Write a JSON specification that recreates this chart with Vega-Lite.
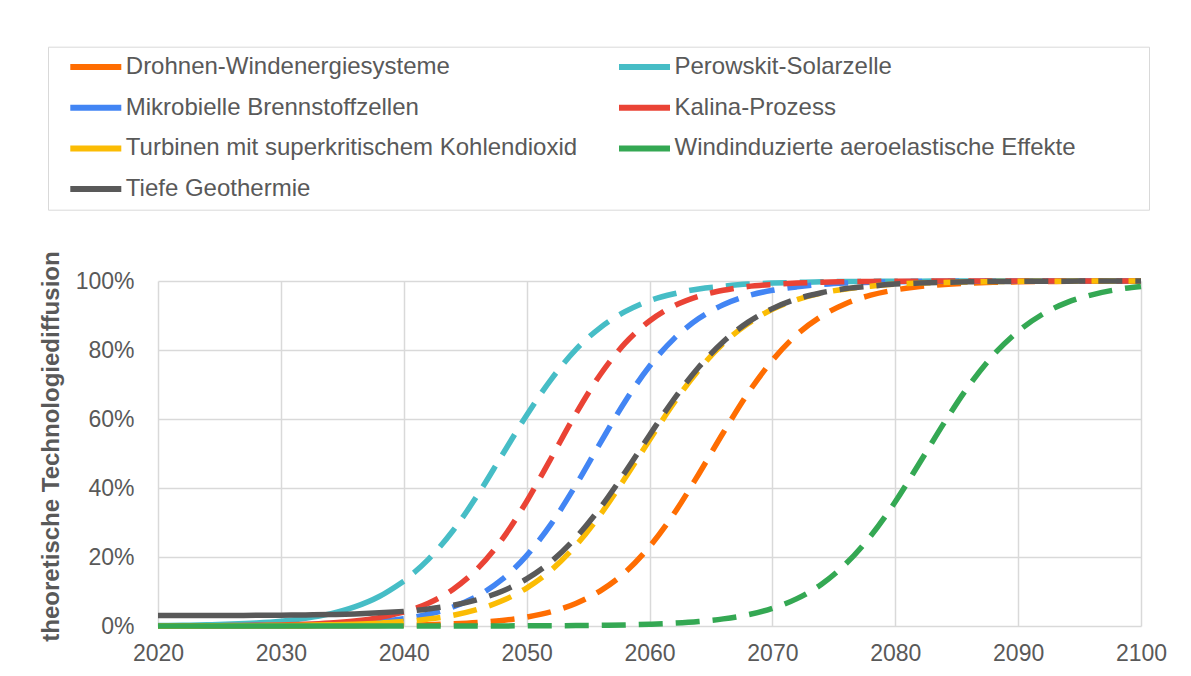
{
  "$schema": "https://vega.github.io/schema/vega-lite/v6.json",
  "width": 983,
  "height": 345,
  "autosize": {"type": "none"},
  "padding": {"left": 158, "top": 281, "right": 50, "bottom": 50},
  "background": "white",
  "config": {
    "font": "Liberation Sans",
    "view": {"stroke": null},
    "axis": {"labelFont": "Liberation Sans", "labelColor": "#595959", "gridColor": "#D9D9D9", "gridWidth": 1.5, "domain": false, "ticks": false, "labelFlush": false}
  },
  "data": {"values": [
    {"Jahr": 2020, "Drohnen-Windenergiesysteme": 0.0000, "Perowskit-Solarzelle": 0.0014, "Mikrobielle Brennstoffzellen": 0.0002, "Kalina-Prozess": 0.0002, "Turbinen mit superkritischem Kohlendioxid": 0.0001, "Windinduzierte aeroelastische Effekte": 0, "Tiefe Geothermie": 0.0301},
    {"Jahr": 2022, "Drohnen-Windenergiesysteme": 0.0000, "Perowskit-Solarzelle": 0.0022, "Mikrobielle Brennstoffzellen": 0.0003, "Kalina-Prozess": 0.0004, "Turbinen mit superkritischem Kohlendioxid": 0.0002, "Windinduzierte aeroelastische Effekte": 0, "Tiefe Geothermie": 0.0302},
    {"Jahr": 2024, "Drohnen-Windenergiesysteme": 0.0001, "Perowskit-Solarzelle": 0.0035, "Mikrobielle Brennstoffzellen": 0.0004, "Kalina-Prozess": 0.0007, "Turbinen mit superkritischem Kohlendioxid": 0.0004, "Windinduzierte aeroelastische Effekte": 0, "Tiefe Geothermie": 0.0303},
    {"Jahr": 2026, "Drohnen-Windenergiesysteme": 0.0001, "Perowskit-Solarzelle": 0.0055, "Mikrobielle Brennstoffzellen": 0.0007, "Kalina-Prozess": 0.0011, "Turbinen mit superkritischem Kohlendioxid": 0.0006, "Windinduzierte aeroelastische Effekte": 0, "Tiefe Geothermie": 0.0305},
    {"Jahr": 2028, "Drohnen-Windenergiesysteme": 0.0001, "Perowskit-Solarzelle": 0.0088, "Mikrobielle Brennstoffzellen": 0.0011, "Kalina-Prozess": 0.0019, "Turbinen mit superkritischem Kohlendioxid": 0.0009, "Windinduzierte aeroelastische Effekte": 0, "Tiefe Geothermie": 0.0309},
    {"Jahr": 2030, "Drohnen-Windenergiesysteme": 0.0002, "Perowskit-Solarzelle": 0.0140, "Mikrobielle Brennstoffzellen": 0.0018, "Kalina-Prozess": 0.0031, "Turbinen mit superkritischem Kohlendioxid": 0.0014, "Windinduzierte aeroelastische Effekte": 0, "Tiefe Geothermie": 0.0314},
    {"Jahr": 2032, "Drohnen-Windenergiesysteme": 0.0003, "Perowskit-Solarzelle": 0.0223, "Mikrobielle Brennstoffzellen": 0.0030, "Kalina-Prozess": 0.0052, "Turbinen mit superkritischem Kohlendioxid": 0.0022, "Windinduzierte aeroelastische Effekte": 0, "Tiefe Geothermie": 0.0321},
    {"Jahr": 2034, "Drohnen-Windenergiesysteme": 0.0006, "Perowskit-Solarzelle": 0.0351, "Mikrobielle Brennstoffzellen": 0.0049, "Kalina-Prozess": 0.0088, "Turbinen mit superkritischem Kohlendioxid": 0.0034, "Windinduzierte aeroelastische Effekte": 0, "Tiefe Geothermie": 0.0333},
    {"Jahr": 2036, "Drohnen-Windenergiesysteme": 0.0009, "Perowskit-Solarzelle": 0.0552, "Mikrobielle Brennstoffzellen": 0.0079, "Kalina-Prozess": 0.0146, "Turbinen mit superkritischem Kohlendioxid": 0.0053, "Windinduzierte aeroelastische Effekte": 0, "Tiefe Geothermie": 0.0351},
    {"Jahr": 2038, "Drohnen-Windenergiesysteme": 0.0015, "Perowskit-Solarzelle": 0.0855, "Mikrobielle Brennstoffzellen": 0.0130, "Kalina-Prozess": 0.0244, "Turbinen mit superkritischem Kohlendioxid": 0.0083, "Windinduzierte aeroelastische Effekte": 0, "Tiefe Geothermie": 0.0381},
    {"Jahr": 2040, "Drohnen-Windenergiesysteme": 0.0024, "Perowskit-Solarzelle": 0.130, "Mikrobielle Brennstoffzellen": 0.021, "Kalina-Prozess": 0.0403, "Turbinen mit superkritischem Kohlendioxid": 0.0128, "Windinduzierte aeroelastische Effekte": 0.0001, "Tiefe Geothermie": 0.0424},
    {"Jahr": 2042, "Drohnen-Windenergiesysteme": 0.0038, "Perowskit-Solarzelle": 0.193, "Mikrobielle Brennstoffzellen": 0.034, "Kalina-Prozess": 0.0659, "Turbinen mit superkritischem Kohlendioxid": 0.020, "Windinduzierte aeroelastische Effekte": 0.0001, "Tiefe Geothermie": 0.0494},
    {"Jahr": 2044, "Drohnen-Windenergiesysteme": 0.0062, "Perowskit-Solarzelle": 0.276, "Mikrobielle Brennstoffzellen": 0.055, "Kalina-Prozess": 0.106, "Turbinen mit superkritischem Kohlendioxid": 0.031, "Windinduzierte aeroelastische Effekte": 0.0001, "Tiefe Geothermie": 0.0601},
    {"Jahr": 2046, "Drohnen-Windenergiesysteme": 0.0100, "Perowskit-Solarzelle": 0.379, "Mikrobielle Brennstoffzellen": 0.087, "Kalina-Prozess": 0.166, "Turbinen mit superkritischem Kohlendioxid": 0.048, "Windinduzierte aeroelastische Effekte": 0.0002, "Tiefe Geothermie": 0.0766},
    {"Jahr": 2048, "Drohnen-Windenergiesysteme": 0.0161, "Perowskit-Solarzelle": 0.495, "Mikrobielle Brennstoffzellen": 0.135, "Kalina-Prozess": 0.251, "Turbinen mit superkritischem Kohlendioxid": 0.073, "Windinduzierte aeroelastische Effekte": 0.0003, "Tiefe Geothermie": 0.1008},
    {"Jahr": 2050, "Drohnen-Windenergiesysteme": 0.0258, "Perowskit-Solarzelle": 0.611, "Mikrobielle Brennstoffzellen": 0.204, "Kalina-Prozess": 0.361, "Turbinen mit superkritischem Kohlendioxid": 0.110, "Windinduzierte aeroelastische Effekte": 0.0005, "Tiefe Geothermie": 0.1367},
    {"Jahr": 2052, "Drohnen-Windenergiesysteme": 0.0412, "Perowskit-Solarzelle": 0.715, "Mikrobielle Brennstoffzellen": 0.296, "Kalina-Prozess": 0.487, "Turbinen mit superkritischem Kohlendioxid": 0.162, "Windinduzierte aeroelastische Effekte": 0.0008, "Tiefe Geothermie": 0.1871},
    {"Jahr": 2054, "Drohnen-Windenergiesysteme": 0.0653, "Perowskit-Solarzelle": 0.801, "Mikrobielle Brennstoffzellen": 0.408, "Kalina-Prozess": 0.615, "Turbinen mit superkritischem Kohlendioxid": 0.233, "Windinduzierte aeroelastische Effekte": 0.0013, "Tiefe Geothermie": 0.256},
    {"Jahr": 2056, "Drohnen-Windenergiesysteme": 0.102, "Perowskit-Solarzelle": 0.865, "Mikrobielle Brennstoffzellen": 0.531, "Kalina-Prozess": 0.729, "Turbinen mit superkritischem Kohlendioxid": 0.323, "Windinduzierte aeroelastische Effekte": 0.0020, "Tiefe Geothermie": 0.343},
    {"Jahr": 2058, "Drohnen-Windenergiesysteme": 0.155, "Perowskit-Solarzelle": 0.911, "Mikrobielle Brennstoffzellen": 0.650, "Kalina-Prozess": 0.819, "Turbinen mit superkritischem Kohlendioxid": 0.428, "Windinduzierte aeroelastische Effekte": 0.0032, "Tiefe Geothermie": 0.445},
    {"Jahr": 2060, "Drohnen-Windenergiesysteme": 0.230, "Perowskit-Solarzelle": 0.943, "Mikrobielle Brennstoffzellen": 0.753, "Kalina-Prozess": 0.884, "Turbinen mit superkritischem Kohlendioxid": 0.539, "Windinduzierte aeroelastische Effekte": 0.0052, "Tiefe Geothermie": 0.553},
    {"Jahr": 2062, "Drohnen-Windenergiesysteme": 0.326, "Perowskit-Solarzelle": 0.963, "Mikrobielle Brennstoffzellen": 0.833, "Kalina-Prozess": 0.928, "Turbinen mit superkritischem Kohlendioxid": 0.647, "Windinduzierte aeroelastische Effekte": 0.0082, "Tiefe Geothermie": 0.658},
    {"Jahr": 2064, "Drohnen-Windenergiesysteme": 0.440, "Perowskit-Solarzelle": 0.977, "Mikrobielle Brennstoffzellen": 0.891, "Kalina-Prozess": 0.956, "Turbinen mit superkritischem Kohlendioxid": 0.742, "Windinduzierte aeroelastische Effekte": 0.0130, "Tiefe Geothermie": 0.750},
    {"Jahr": 2066, "Drohnen-Windenergiesysteme": 0.560, "Perowskit-Solarzelle": 0.985, "Mikrobielle Brennstoffzellen": 0.931, "Kalina-Prozess": 0.973, "Turbinen mit superkritischem Kohlendioxid": 0.819, "Windinduzierte aeroelastische Effekte": 0.0206, "Tiefe Geothermie": 0.824},
    {"Jahr": 2068, "Drohnen-Windenergiesysteme": 0.674, "Perowskit-Solarzelle": 0.991, "Mikrobielle Brennstoffzellen": 0.957, "Kalina-Prozess": 0.984, "Turbinen mit superkritischem Kohlendioxid": 0.876, "Windinduzierte aeroelastische Effekte": 0.0326, "Tiefe Geothermie": 0.880},
    {"Jahr": 2070, "Drohnen-Windenergiesysteme": 0.770, "Perowskit-Solarzelle": 0.994, "Mikrobielle Brennstoffzellen": 0.973, "Kalina-Prozess": 0.990, "Turbinen mit superkritischem Kohlendioxid": 0.918, "Windinduzierte aeroelastische Effekte": 0.0511, "Tiefe Geothermie": 0.920},
    {"Jahr": 2072, "Drohnen-Windenergiesysteme": 0.845, "Perowskit-Solarzelle": 0.996, "Mikrobielle Brennstoffzellen": 0.983, "Kalina-Prozess": 0.994, "Turbinen mit superkritischem Kohlendioxid": 0.946, "Windinduzierte aeroelastische Effekte": 0.0794, "Tiefe Geothermie": 0.948},
    {"Jahr": 2074, "Drohnen-Windenergiesysteme": 0.898, "Perowskit-Solarzelle": 0.998, "Mikrobielle Brennstoffzellen": 0.990, "Kalina-Prozess": 0.9966, "Turbinen mit superkritischem Kohlendioxid": 0.965, "Windinduzierte aeroelastische Effekte": 0.121, "Tiefe Geothermie": 0.966},
    {"Jahr": 2076, "Drohnen-Windenergiesysteme": 0.935, "Perowskit-Solarzelle": 0.9986, "Mikrobielle Brennstoffzellen": 0.994, "Kalina-Prozess": 0.998, "Turbinen mit superkritischem Kohlendioxid": 0.977, "Windinduzierte aeroelastische Effekte": 0.181, "Tiefe Geothermie": 0.978},
    {"Jahr": 2078, "Drohnen-Windenergiesysteme": 0.959, "Perowskit-Solarzelle": 0.9991, "Mikrobielle Brennstoffzellen": 0.9962, "Kalina-Prozess": 0.9988, "Turbinen mit superkritischem Kohlendioxid": 0.985, "Windinduzierte aeroelastische Effekte": 0.261, "Tiefe Geothermie": 0.985},
    {"Jahr": 2080, "Drohnen-Windenergiesysteme": 0.974, "Perowskit-Solarzelle": 0.9994, "Mikrobielle Brennstoffzellen": 0.9977, "Kalina-Prozess": 0.9993, "Turbinen mit superkritischem Kohlendioxid": 0.991, "Windinduzierte aeroelastische Effekte": 0.360, "Tiefe Geothermie": 0.991},
    {"Jahr": 2082, "Drohnen-Windenergiesysteme": 0.984, "Perowskit-Solarzelle": 0.9996, "Mikrobielle Brennstoffzellen": 0.9986, "Kalina-Prozess": 0.9996, "Turbinen mit superkritischem Kohlendioxid": 0.994, "Windinduzierte aeroelastische Effekte": 0.474, "Tiefe Geothermie": 0.994},
    {"Jahr": 2084, "Drohnen-Windenergiesysteme": 0.990, "Perowskit-Solarzelle": 0.9998, "Mikrobielle Brennstoffzellen": 0.9991, "Kalina-Prozess": 0.9997, "Turbinen mit superkritischem Kohlendioxid": 0.996, "Windinduzierte aeroelastische Effekte": 0.590, "Tiefe Geothermie": 0.996},
    {"Jahr": 2086, "Drohnen-Windenergiesysteme": 0.9938, "Perowskit-Solarzelle": 0.9998, "Mikrobielle Brennstoffzellen": 0.9995, "Kalina-Prozess": 0.9998, "Turbinen mit superkritischem Kohlendioxid": 0.9975, "Windinduzierte aeroelastische Effekte": 0.697, "Tiefe Geothermie": 0.9976},
    {"Jahr": 2088, "Drohnen-Windenergiesysteme": 0.9962, "Perowskit-Solarzelle": 0.9999, "Mikrobielle Brennstoffzellen": 0.9997, "Kalina-Prozess": 0.9999, "Turbinen mit superkritischem Kohlendioxid": 0.9984, "Windinduzierte aeroelastische Effekte": 0.786, "Tiefe Geothermie": 0.9984},
    {"Jahr": 2090, "Drohnen-Windenergiesysteme": 0.9976, "Perowskit-Solarzelle": 0.9999, "Mikrobielle Brennstoffzellen": 0.9998, "Kalina-Prozess": 0.9999, "Turbinen mit superkritischem Kohlendioxid": 0.999, "Windinduzierte aeroelastische Effekte": 0.854, "Tiefe Geothermie": 0.999},
    {"Jahr": 2092, "Drohnen-Windenergiesysteme": 0.9985, "Perowskit-Solarzelle": 1, "Mikrobielle Brennstoffzellen": 0.9999, "Kalina-Prozess": 1, "Turbinen mit superkritischem Kohlendioxid": 0.9994, "Windinduzierte aeroelastische Effekte": 0.904, "Tiefe Geothermie": 0.9994},
    {"Jahr": 2094, "Drohnen-Windenergiesysteme": 0.9991, "Perowskit-Solarzelle": 1, "Mikrobielle Brennstoffzellen": 0.9999, "Kalina-Prozess": 1, "Turbinen mit superkritischem Kohlendioxid": 0.9996, "Windinduzierte aeroelastische Effekte": 0.938, "Tiefe Geothermie": 0.9996},
    {"Jahr": 2096, "Drohnen-Windenergiesysteme": 0.9994, "Perowskit-Solarzelle": 1, "Mikrobielle Brennstoffzellen": 1, "Kalina-Prozess": 1, "Turbinen mit superkritischem Kohlendioxid": 0.9997, "Windinduzierte aeroelastische Effekte": 0.960, "Tiefe Geothermie": 0.9997},
    {"Jahr": 2098, "Drohnen-Windenergiesysteme": 0.9996, "Perowskit-Solarzelle": 1, "Mikrobielle Brennstoffzellen": 1, "Kalina-Prozess": 1, "Turbinen mit superkritischem Kohlendioxid": 0.9998, "Windinduzierte aeroelastische Effekte": 0.975, "Tiefe Geothermie": 0.9998},
    {"Jahr": 2100, "Drohnen-Windenergiesysteme": 0.9998, "Perowskit-Solarzelle": 1, "Mikrobielle Brennstoffzellen": 1, "Kalina-Prozess": 1, "Turbinen mit superkritischem Kohlendioxid": 0.9999, "Windinduzierte aeroelastische Effekte": 0.984, "Tiefe Geothermie": 0.9999}
  ]},
  "transform": [
    {"fold": ["Drohnen-Windenergiesysteme", "Perowskit-Solarzelle", "Mikrobielle Brennstoffzellen", "Kalina-Prozess", "Turbinen mit superkritischem Kohlendioxid", "Windinduzierte aeroelastische Effekte", "Tiefe Geothermie"], "as": ["Technologie", "Wert"]}
  ],
  "encoding": {
    "x": {"field": "Jahr", "type": "quantitative",
      "scale": {"domain": [2020, 2100], "nice": false, "zero": false},
      "axis": {"values": [2020, 2030, 2040, 2050, 2060, 2070, 2080, 2090, 2100], "format": "d", "labelFontSize": 23, "labelPadding": 16, "title": null, "grid": true}},
    "y": {"field": "Wert", "type": "quantitative",
      "scale": {"domain": [0, 1], "nice": false},
      "axis": {"values": [0, 0.2, 0.4, 0.6, 0.8, 1], "format": ".0%", "labelFontSize": 23, "labelPadding": 24, "title": "theoretische Technologiediffusion", "titleFontSize": 24, "titleFontWeight": "bold", "titleColor": "#595959", "titleFont": "Liberation Sans", "titlePadding": 12, "titleY": 165, "grid": true}},
    "color": {"field": "Technologie", "type": "nominal",
      "scale": {"domain": ["Drohnen-Windenergiesysteme", "Perowskit-Solarzelle", "Mikrobielle Brennstoffzellen", "Kalina-Prozess", "Turbinen mit superkritischem Kohlendioxid", "Windinduzierte aeroelastische Effekte", "Tiefe Geothermie"],
        "range": ["#FF6D01", "#46BDC6", "#4285F4", "#EA4335", "#FBBC04", "#34A853", "#595959"]},
      "legend": {"orient": "none", "direction": "horizontal", "legendX": -110, "legendY": -234.3,
        "title": " ", "titleOrient": "right", "titlePadding": 65, "titleFontSize": 24,
        "columns": 2, "gridAlign": "all",
        "symbolType": "stroke", "symbolSize": 2601, "symbolStrokeWidth": 6, "symbolOffset": 11, "labelOffset": 1.5,
        "clipHeight": 24, "rowPadding": 16.7, "columnPadding": 27.7, "padding": 8.3,
        "strokeColor": "#D9D9D9", "labelFontSize": 24, "labelColor": "#595959", "labelLimit": 0, "labelFont": "Liberation Sans"}}
  },
  "layer": [
    {"transform": [{"filter": "datum.Jahr <= 2040"}], "mark": {"type": "line", "strokeWidth": 5.5, "interpolate": "monotone"}},
    {"transform": [{"filter": "datum.Jahr >= 2040"}], "mark": {"type": "line", "strokeWidth": 5.5, "interpolate": "monotone", "strokeDash": [24, 13], "strokeDashOffset": 24}}
  ]
}
